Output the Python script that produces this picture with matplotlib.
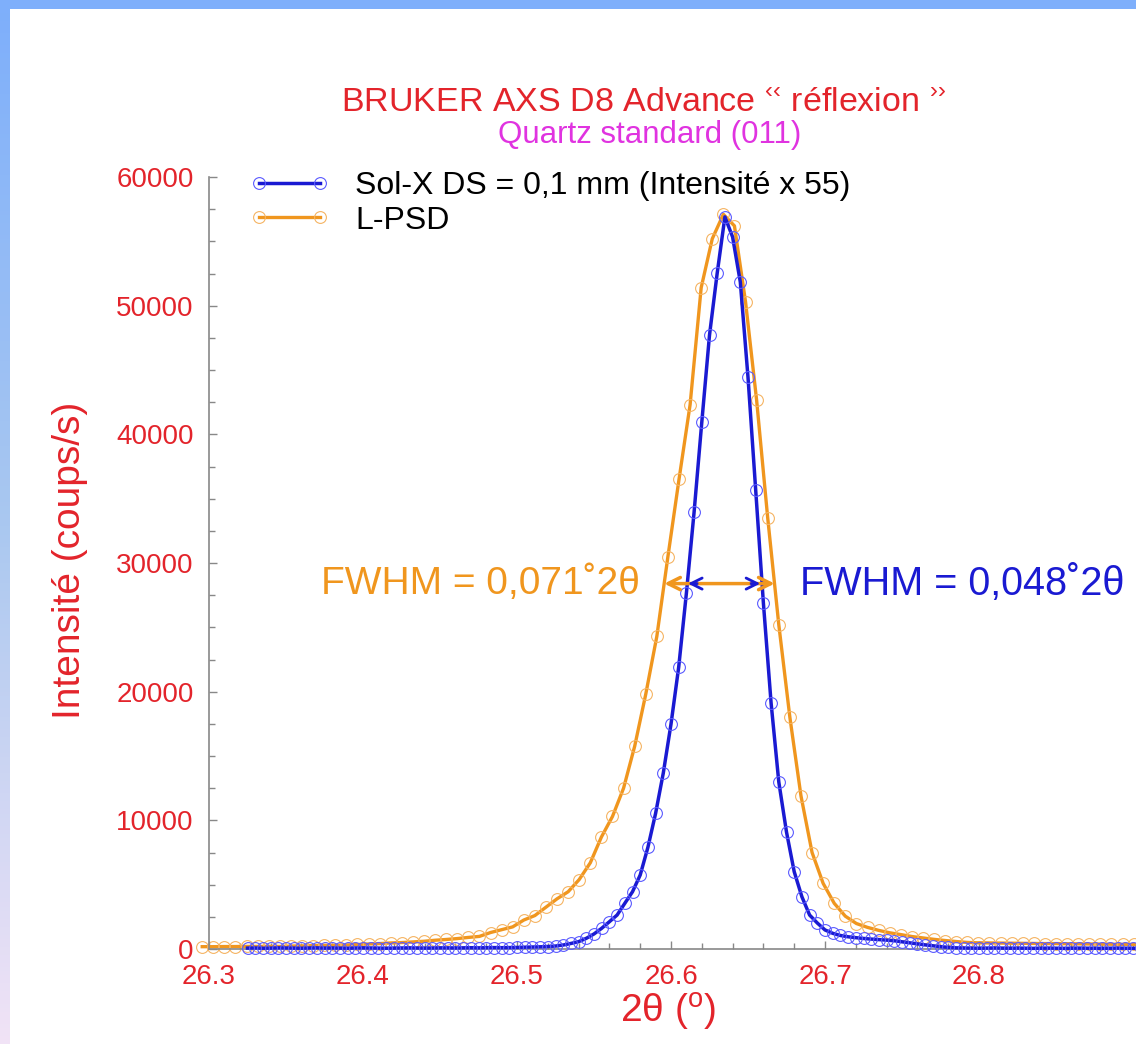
import numpy as np
import matplotlib
matplotlib.use('Agg')
import matplotlib.pyplot as plt
from matplotlib.colors import LinearSegmentedColormap
from matplotlib.patches import Rectangle
from matplotlib.ticker import MultipleLocator

plt.rcParams['font.family'] = ['Liberation Sans', 'DejaVu Sans']
plt.rcParams['mathtext.fontset'] = 'custom'
plt.rcParams['mathtext.rm'] = 'Liberation Sans'
plt.rcParams['mathtext.it'] = 'Liberation Sans:italic'

# scan grids (2theta start / step, degrees)
solx_start, solx_step = 26.325, 0.005
lpsd_start, lpsd_step = 26.2956, 0.0072

# Sol-X DS = 0.1 mm, counts already multiplied by 55
solx_counts = [
    70, 80, 60, 70, 90, 80, 70, 60, 80, 90, 70, 80, 70, 60, 80, 90, 80, 70,
    60, 70, 80, 90, 80, 70, 80, 90, 90, 80, 90, 100, 90, 100, 110, 100, 110,
    120, 140, 155, 170, 190, 230, 310, 430, 570, 830, 1170, 1610, 2120, 2640,
    3550, 4450, 5750, 7900, 10540, 13680, 17480, 21910, 27660, 33960, 40950,
    47710, 52530, 56900, 55340, 51840, 44440, 35660, 26880, 19110, 12980,
    9090, 6010, 4060, 2640, 2020, 1480, 1220, 1050, 950, 880, 820, 770, 730,
    690, 640, 560, 480, 400, 320, 250, 180, 130, 90,
    80, 70, 60, 70, 80, 70, 60, 70, 60, 50, 60, 70, 60, 50, 60, 70, 60, 60,
    50, 60, 70, 60, 50, 60, 60, 70, 60]

# L-PSD counts
lpsd_counts = [
    180, 180, 190, 190, 200, 200, 210, 200, 230, 240, 260, 280, 290, 310,
    350, 390, 420, 470, 500, 550, 600, 680, 740, 810, 900, 980, 1280, 1500,
    1720, 2250, 2600, 3250, 3900, 4450, 5400, 6700, 8700, 10300, 12500,
    15750, 19800, 24300, 30500, 36500, 42300, 51400, 55200, 57100, 56200,
    50300, 42650, 33500, 25200, 18000, 11900, 7500, 5100, 3550, 2550, 1980,
    1680, 1450, 1260, 1120, 970, 860, 750, 660, 580, 510, 480, 470, 460,
    450, 440, 430, 420, 420, 410, 400, 390, 380, 370, 360, 350, 350, 340]

solx_2theta = solx_start + solx_step * np.arange(len(solx_counts))
lpsd_2theta = lpsd_start + lpsd_step * np.arange(len(lpsd_counts))

# FWHM markers (half height and crossing points)
half_max = 28400
fwhm_lpsd = (26.5956, 26.6673)
fwhm_solx = (26.611, 26.658)

red = '#e3242b'
orange = '#f0961e'
blue = '#1a1ad2'

fig = plt.figure(figsize=(11.36, 10.44), dpi=100)

# blue frame at top and left (gradient)
fig.patches.append(Rectangle((0, 1 - 9 / 1044), 1, 9 / 1044, transform=fig.transFigure,
                             facecolor='#7eaffb', edgecolor='none'))
band = fig.add_axes([0, 0, 10 / 1136, 1 - 9 / 1044])
cmap = LinearSegmentedColormap.from_list('band', ['#7eaffb', '#aac8f0', '#f1e3f6'])
band.imshow(np.linspace(0, 1, 256).reshape(-1, 1), aspect='auto', cmap=cmap)
band.axis('off')

ax = fig.add_axes([209 / 1136, 95 / 1044, 927 / 1136, 772 / 1044])

ax.plot(solx_2theta, solx_counts, '-o', color=blue, lw=2.5, ms=8.5, mfc='none',
        mec='#5a5aff', mew=0.8, clip_on=False, zorder=3,
        label='Sol-X DS = 0,1 mm (Intensité x 55)')
ax.plot(lpsd_2theta, lpsd_counts, '-o', color=orange, lw=2.4, ms=8.5, mfc='none',
        mec='#f5b463', mew=0.8, clip_on=False, zorder=2, label='L-PSD')

# FWHM arrows
ax.annotate('', xy=(fwhm_lpsd[0], half_max), xytext=(fwhm_lpsd[1], half_max),
            arrowprops=dict(arrowstyle='<->', color=orange, lw=2.5, mutation_scale=22,
                            shrinkA=0, shrinkB=0), zorder=4)
ax.annotate('', xy=(fwhm_solx[0], half_max), xytext=(fwhm_solx[0] + 0.006, half_max),
            arrowprops=dict(arrowstyle='->', color=blue, lw=2, mutation_scale=20,
                            shrinkA=0, shrinkB=0), zorder=5)
ax.annotate('', xy=(fwhm_solx[1], half_max), xytext=(fwhm_solx[1] - 0.006, half_max),
            arrowprops=dict(arrowstyle='->', color=blue, lw=2, mutation_scale=20,
                            shrinkA=0, shrinkB=0), zorder=5)
ax.text(26.58, half_max, 'FWHM = 0,071\u02da2\u03b8', color=orange, fontsize=28,
        ha='right', va='center')
ax.text(26.684, half_max, 'FWHM = 0,048\u02da2\u03b8', color=blue, fontsize=28.5,
        ha='left', va='center')

ax.set_xlim(26.3, 26.3 + 927 / 1540)
ax.set_ylim(0, 60000)
ax.xaxis.set_major_locator(MultipleLocator(0.1))
ax.xaxis.set_minor_locator(MultipleLocator(0.02))
ax.yaxis.set_major_locator(MultipleLocator(10000))
ax.yaxis.set_minor_locator(MultipleLocator(2500))
ax.set_xticks([26.3, 26.4, 26.5, 26.6, 26.7, 26.8])
ax.set_xticklabels(['26.3', '26.4', '26.5', '26.6', '26.7', '26.8'])

for s in ['top', 'right']:
    ax.spines[s].set_visible(False)
for s in ['left', 'bottom']:
    ax.spines[s].set_color('#888888')
    ax.spines[s].set_linewidth(1.2)
ax.tick_params(which='both', direction='in', color='#888888', labelcolor=red,
               labelsize=20, pad=11)
ax.tick_params(which='major', length=6, width=1)
ax.tick_params(which='minor', length=4, width=1)

ax.set_xlabel('2\u03b8 ($^{\\mathrm{o}}$)', color=red, fontsize=28)
ax.set_ylabel('Intensité (coups/s)', color=red, fontsize=28)
ax.xaxis.set_label_coords(0.495, -0.055)
ax.yaxis.set_label_coords(-0.13, 0.504)

leg = ax.legend(loc='upper left', bbox_to_anchor=(0.044, 1.008), frameon=False,
                fontsize=23, numpoints=2, handlelength=2.5, handletextpad=0.8,
                labelspacing=0.15, borderpad=0, borderaxespad=0)

fig.text(0.566, 0.9015, 'BRUKER AXS D8 Advance $^{\u2039\u2039}$ réflexion $^{\u203a\u203a}$',
         color=red, fontsize=24.5, ha='center', va='center')
fig.text(0.572, 0.8705, 'Quartz standard (011)', color='#e033e0', fontsize=22.5,
         ha='center', va='center')

fig.savefig('out.png', dpi=100)
